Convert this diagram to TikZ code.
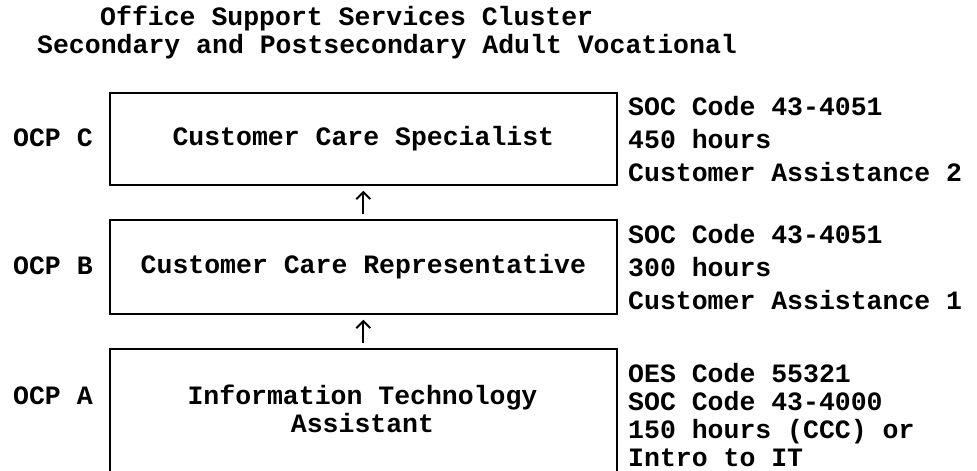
\documentclass[tikz,border=0pt]{standalone}
\usepackage{fontspec}
\setmainfont{Liberation Mono}
\usetikzlibrary{arrows.meta}
\begin{document}
\begin{tikzpicture}[x=1bp,y=-1bp,
  txt/.style={font=\bfseries\fontsize{26.5bp}{33bp}\selectfont, inner sep=0pt, align=left},
  txtA/.style={font=\bfseries\fontsize{26.5bp}{28bp}\selectfont, inner sep=0pt, align=left},
  box/.style={draw, line width=1.7bp, minimum width=507bp, inner sep=0pt, align=center},
  arr/.style={-{Straight Barb[length=7bp,width=14bp,line width=2bp]}, line width=2bp, shorten <=5bp, shorten >=5bp}]
\useasboundingbox (0,0) rectangle (977,471);
\clip (0,0) rectangle (977,471);
% title
\node[txt, anchor=west] (t1) at (100,18) {Office Support Services Cluster};
\node[txt, anchor=west] (t2) at (37,47) {Secondary and Postsecondary Adult Vocational};
% boxes
\node[box, txt, minimum height=92bp, anchor=north west, align=center] (C) at (109,92) {Customer Care Specialist};
\node[box, txt, minimum height=94bp, anchor=north west, align=center] (B) at (109,219) {Customer Care Representative};
\node[box, minimum height=150bp, anchor=north west] (A) at (109,348) {};
\node[txtA, align=center] (tA) at (362.5,409) {Information Technology\\Assistant};
% left labels
\node[txt, anchor=west] (lC) at (13,138) {OCP C};
\node[txt, anchor=west] (lB) at (13,266) {OCP B};
\node[txt, anchor=west] (lA) at (13,396) {OCP A};
% right texts
\node[txt, anchor=west] (rC) at (628,139) {SOC Code 43-4051\\450 hours\\Customer Assistance 2};
\node[txt, anchor=west] (rB) at (628,267) {SOC Code 43-4051\\300 hours\\Customer Assistance 1};
\node[txtA, anchor=west] (rA) at (628,415) {OES Code 55321\\SOC Code 43-4000\\150 hours (CCC) or\\Intro to IT};
% arrows
\draw[arr] (B) -- (C);
\draw[arr] (A) -- (B);
\end{tikzpicture}
\end{document}
